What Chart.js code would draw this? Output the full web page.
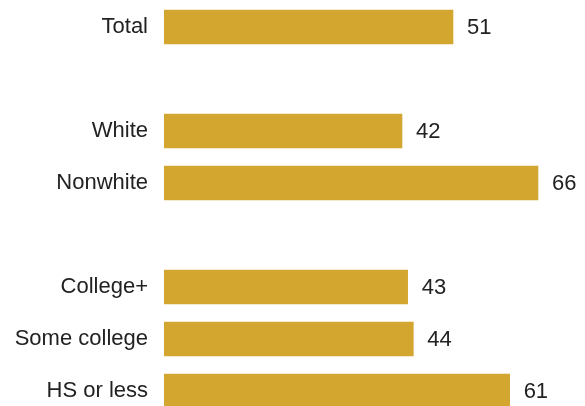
<!DOCTYPE html>
<html>
<head>
<meta charset="utf-8">
<script src="https://cdn.jsdelivr.net/npm/chart.js@4.4.1/dist/chart.umd.min.js"></script>
<style>
  html, body { margin: 0; padding: 0; background: #fff; overflow: hidden; }
  #wrap { position: relative; width: 585px; height: 418px; }
</style>
</head>
<body>
<div id="wrap"><canvas id="groups"></canvas></div>
<script>
// empty strings are spacer rows between the groups
var groupLabels = ['Total', '', 'White', 'Nonwhite', '', 'College+', 'Some college', 'HS or less'];
var groupValues = [51, null, 42, 66, null, 43, 44, 61];

var barColor = '#d3a62f';
var textFont = { family: '"Liberation Sans", Arial, sans-serif', size: 22 };

// write the number just past the end of each bar
var valueLabels = {
    id: 'valueLabels',
    afterDatasetsDraw: function(chart){
        var ctx = chart.ctx;
        var meta = chart.getDatasetMeta(0);
        ctx.save();
        ctx.font = textFont.size + 'px ' + textFont.family;
        ctx.fillStyle = '#222';
        ctx.textAlign = 'left';
        ctx.textBaseline = 'middle';
        meta.data.forEach(function(bar, i){
            var v = chart.data.datasets[0].data[i];
            if (v === null) return;
            ctx.fillText(String(v), bar.x + 14, bar.y + 1);
        });
        ctx.restore();
    }
};

var ctx = document.getElementById('groups').getContext('2d');
var myChart = new Chart(ctx, {
    type: 'bar',
    data: {
        labels: groupLabels,
        datasets: [{
            data: groupValues,
            backgroundColor: barColor,
            borderWidth: 0,
            barThickness: 34
        }]
    },
    options: {
        indexAxis: 'y',
        responsive: true,
        maintainAspectRatio: false,
        animation: false,
        layout: { padding: { top: 1, bottom: 1, left: 0, right: 0 } },
        plugins: {
            legend: { display: false },
            tooltip: { enabled: false }
        },
        scales: {
            x: {
                display: false,
                min: 0,
                max: 74.3
            },
            y: {
                grid: { display: false, drawTicks: false },
                border: { display: false },
                ticks: {
                    color: '#222',
                    font: textFont,
                    padding: 16
                },
                afterFit: function(scale){
                    // fixed label column, no extra room above/below the rows
                    scale.width = 164;
                    scale.paddingTop = 0;
                    scale.paddingBottom = 0;
                }
            }
        }
    },
    plugins: [valueLabels]
});
</script>
</body>
</html>
